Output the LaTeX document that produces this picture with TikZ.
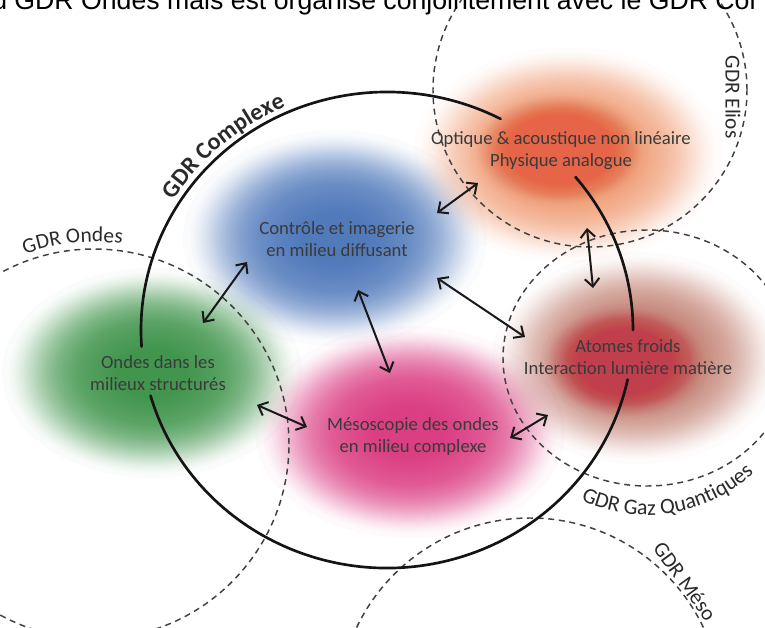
\documentclass[tikz,border=0pt]{standalone}
\usepackage{fontspec}
\setmainfont{Carlito}
\newfontfamily\titlefont{Liberation Sans}
\usetikzlibrary{arrows.meta,decorations.text}
\definecolor{txt}{HTML}{3A3A3A}
\definecolor{gdrc}{HTML}{2A2A2A}
\definecolor{dashc}{HTML}{404040}
\definecolor{cblue}{HTML}{4470B6}
\definecolor{corange}{HTML}{EE9266}
\definecolor{corangecore}{HTML}{E4583A}
\definecolor{cgreen}{HTML}{338D40}
\definecolor{cpink}{HTML}{D8307A}
\definecolor{cbrown}{HTML}{BC7566}
\definecolor{cred}{HTML}{C2303F}
% soft blob: colour, cx, cy (pixels), rx, ry
\newcommand\mkblob[5]{\foreach \k in {0,...,99}{\fill[#1,opacity=0.028] (#2,-#3) ellipse ({#4*sqrt(1-sqrt(\k/100))} and {#5*sqrt(1-sqrt(\k/100))});}}
\begin{document}
\begin{tikzpicture}[x=0.75pt,y=0.75pt,
  lbl/.style={font=\fontsize{14}{16.5}\selectfont, text=txt, align=center, inner sep=0pt},
  gdr/.style={font=\fontsize{16}{19}\selectfont, text=gdrc, inner sep=0pt},
  gdrline/.style={dashc, line width=1.1pt, dash pattern=on 4.5pt off 3.5pt},
  mainline/.style={line width=2pt, black!92, line cap=round},
  link/.style={line width=1.5pt, black!90, {Straight Barb[length=6pt,width=11pt]}-{Straight Barb[length=6pt,width=11pt]}}]
\useasboundingbox (0,0) rectangle (765,-628);
\clip (0,0) rectangle (765,-628);
% blobs
\mkblob{cblue}{335}{238}{152}{108}
\mkblob{corange}{568}{155}{155}{108}
\mkblob{corangecore}{560}{150}{90}{58}
\mkblob{cgreen}{152}{373}{150}{105}
\mkblob{cpink}{410}{432}{155}{106}
\mkblob{cbrown}{637}{358}{145}{106}
\mkblob{cred}{625}{362}{85}{58}
% dashed GDR circles
\draw[gdrline] (590,-90) circle[radius=157];
\draw[gdrline] (94,-444) circle[radius=195];
\draw[gdrline] (647,-358) ellipse[x radius=144, y radius=128];
\draw[gdrline] (530,-710) circle[radius=192];
% main GDR Complexe outline (with gaps behind texts)
\draw[mainline] ([shift={(387,-330)}]62.5:246 and 238) arc[start angle=62.5, end angle=184, x radius=246, y radius=238];
\draw[mainline] ([shift={(387,-330)}]196:246 and 238) arc[start angle=196, end angle=348, x radius=246, y radius=238];
\draw[mainline] ([shift={(387,-330)}]0:246 and 238) arc[start angle=0, end angle=40, x radius=246, y radius=238];
% curved labels
\path[decorate, decoration={text along path, text align=center, text color=gdrc,
  text={|\fontsize{18}{20}\selectfont\bfseries|GDR Complexe}}]
  ([shift={(387,-330)}]165:252 and 244) arc[start angle=165, end angle=97, x radius=252, y radius=244];
\path[decorate, decoration={text along path, text align=center, text color=gdrc,
  text={|\fontsize{16}{19}\selectfont|GDR Ondes}}]
  ([shift={(94,-444)}]130:202) arc[start angle=130, end angle=62, radius=202];
\path[decorate, decoration={text along path, text align=center, text color=gdrc,
  text={|\fontsize{16.5}{19}\selectfont|GDR Gaz Quantiques}}]
  ([shift={(647,-358)}]239:157) arc[start angle=239, end angle=319, radius=157];
\node[gdr, rotate=-90] (elios) at (733,-97) {GDR Elios};
\node[gdr, rotate=-54] (meso) at (685,-581) {GDR Méso};
% topic texts
\node[lbl] (blue) at (337,-239) {Contrôle et imagerie\\en milieu diffusant};
\node[lbl] (orange) at (561,-151) {Optique \& acoustique non linéaire\\Physique analogue};
\node[lbl] (green) at (158,-373) {Ondes dans les\\milieux structurés};
\node[lbl] (pink) at (413,-437) {Mésoscopie des ondes\\en milieu complexe};
\node[lbl] (red) at (628,-357) {Atomes froids\\Interaction lumière matière};
% arrows
\coordinate (bo1) at (437,-213); \coordinate (bo2) at (478,-183);
\coordinate (or1) at (587,-228); \coordinate (or2) at (593,-288);
\coordinate (bg1) at (247,-262); \coordinate (bg2) at (203,-323);
\coordinate (bp1) at (358,-290); \coordinate (bp2) at (390,-373);
\coordinate (br1) at (437,-278); \coordinate (br2) at (525,-337);
\coordinate (gp1) at (257,-405); \coordinate (gp2) at (307,-427);
\coordinate (pr1) at (510,-438); \coordinate (pr2) at (548,-415);
\draw[link] (bo1) -- (bo2);
\draw[link] (or1) -- (or2);
\draw[link] (bg1) -- (bg2);
\draw[link] (bp1) -- (bp2);
\draw[link] (br1) -- (br2);
\draw[link] (gp1) -- (gp2);
\draw[link] (pr1) -- (pr2);
% clipped title line
\node[anchor=base west, inner sep=0pt, font=\titlefont\fontsize{20}{24}\selectfont] (title) at (-8,-10) {u GDR Ondes mais est organisé conjointement avec le GDR Cor};
\end{tikzpicture}
\end{document}
